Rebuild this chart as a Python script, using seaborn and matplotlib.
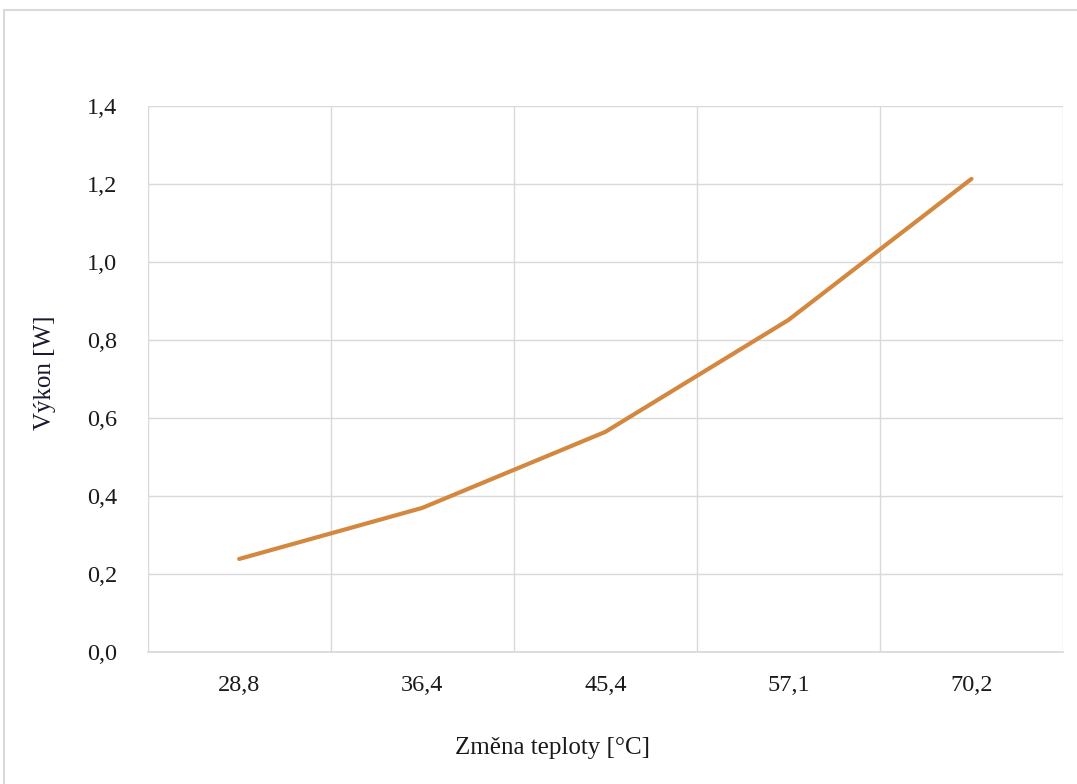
import matplotlib
matplotlib.use("Agg")
import matplotlib.pyplot as plt
import seaborn as sns
import pandas as pd
from matplotlib.patches import Rectangle
from matplotlib.ticker import FixedLocator

categories = ["28,8", "36,4", "45,4", "57,1", "70,2"]
power = [0.238, 0.369, 0.564, 0.851, 1.213]
y_ticks = [0.0, 0.2, 0.4, 0.6, 0.8, 1.0, 1.2, 1.4]
y_tick_labels = ["0,0", "0,2", "0,4", "0,6", "0,8", "1,0", "1,2", "1,4"]

df = pd.DataFrame({"teplota": categories, "vykon": power})

sns.set_theme(style="white")
plt.rcParams["font.family"] = ["Liberation Serif", "DejaVu Serif"]

fig = plt.figure(figsize=(10.77, 7.84), dpi=100)
ax = fig.add_axes([0.1371, 0.1687, 0.8499, 0.6961])

# chart border
fig.patches.append(Rectangle((4 / 1077, -0.01), 1.1, (784 - 10) / 784 + 0.01,
                             transform=fig.transFigure, fill=False,
                             edgecolor="#D9D9D9", linewidth=1.5, zorder=0))

sns.lineplot(data=df, x="teplota", y="vykon", ax=ax, color="#D4873E",
             linewidth=3.0, sort=False)

grid_c = "#D9D9D9"
ax.set_xlim(-0.5, len(categories) - 0.5)
ax.set_ylim(0, 1.4)
ax.set_yticks(y_ticks)
ax.set_yticklabels(y_tick_labels)
ax.set_xticks(range(len(categories)))
ax.set_xticklabels(categories)
ax.xaxis.set_minor_locator(FixedLocator([i - 0.5 for i in range(len(categories) + 1)]))
ax.grid(False)
ax.yaxis.grid(True, which="major", color=grid_c, linewidth=1.0)
ax.xaxis.grid(True, which="minor", color=grid_c, linewidth=1.0)
ax.set_axisbelow(True)
for s in ax.spines.values():
    s.set_visible(False)
ax.spines["bottom"].set_visible(True)
ax.spines["bottom"].set_color(grid_c)
ax.tick_params(axis="both", which="both", length=0, labelsize=17.5,
               colors="#1a1a1a")
ax.tick_params(axis="y", pad=22)
ax.tick_params(axis="x", pad=17)

ax.set_xlabel("Změna teploty [°C]", fontsize=18, color="#1a1a1a", va="center")
ax.set_ylabel("Výkon [W]", fontsize=18, color="#1a1a2e", va="center")
ax.xaxis.set_label_coords((553 - 147.7) / 915.3, (651.7 - 748) / 545.7)
ax.yaxis.set_label_coords((45 - 147.7) / 915.3, (651.7 - 373) / 545.7)

fig.savefig("out.png", dpi=100)
